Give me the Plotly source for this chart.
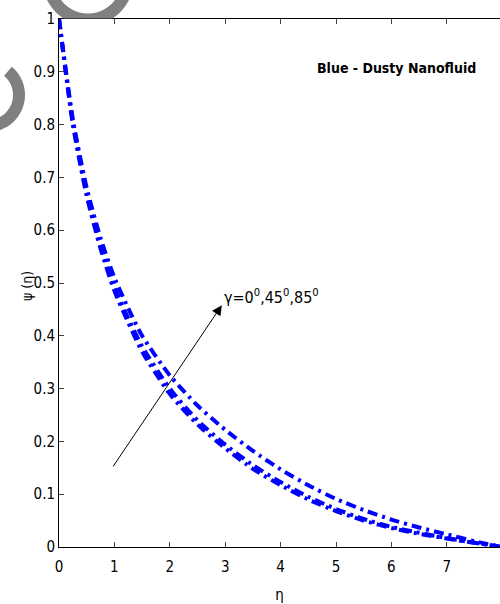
import numpy as np
import plotly.graph_objects as go

# ---- data ----
eta = [0, 0.25, 0.5, 0.75, 1, 1.25, 1.5, 2, 2.5, 3, 3.5, 4, 4.5, 5, 5.5, 6, 6.5, 7, 7.5, 8]
psi_g0 = [1, 0.80, 0.665, 0.565, 0.485, 0.425, 0.37, 0.29, 0.232, 0.187, 0.148, 0.117, 0.09, 0.068, 0.05, 0.036, 0.025, 0.016, 0.008, 0]
psi_g45 = [1, 0.805, 0.67, 0.572, 0.493, 0.433, 0.38, 0.30, 0.24, 0.194, 0.155, 0.123, 0.095, 0.072, 0.053, 0.038, 0.027, 0.017, 0.008, 0]
psi_g85 = [1, 0.81, 0.68, 0.585, 0.51, 0.452, 0.40, 0.325, 0.268, 0.222, 0.182, 0.147, 0.117, 0.091, 0.07, 0.052, 0.037, 0.024, 0.011, 0]
series_names = ["γ=0°", "γ=45°", "γ=85°"]
x_ticks = [0, 1, 2, 3, 4, 5, 6, 7]
y_ticks = [0, 0.1, 0.2, 0.3, 0.4, 0.5, 0.6, 0.7, 0.8, 0.9, 1]
y_tick_text = ["0", "0.1", "0.2", "0.3", "0.4", "0.5", "0.6", "0.7", "0.8", "0.9", "1"]

W, H = 500, 604
ML, MR, MT, MB = 59, 0, 19, 57
FONT = "Liberation Sans Narrow, DejaVu Sans Condensed, Liberation Sans, Arial, sans-serif"

fig = go.Figure()
for name, ys in zip(series_names, [psi_g0, psi_g45, psi_g85]):
    fig.add_trace(go.Scatter(
        x=eta, y=ys, mode="lines", name=name,
        line=dict(color="#0000FF", width=4, dash="10px,5px,3px,5px", shape="spline", smoothing=0.6),
        showlegend=False,
    ))

# ---- decorative grey watermark fragments (outside the axes) ----
pw = W - ML - MR
ph = H - MT - MB

def to_paper(px, py):
    return (px - ML) / pw, (H - MB - py) / ph

def ring_path(cx, cy, R, r, a0, a1, ymax=None, n=80):
    th = np.linspace(np.radians(a0), np.radians(a1), n)
    outer = [(cx + R * np.cos(t), cy + R * np.sin(t)) for t in th]
    inner = [(cx + r * np.cos(t), cy + r * np.sin(t)) for t in th[::-1]]
    pts = outer + inner
    if ymax is not None:
        pts = [(x, min(y, ymax)) for x, y in pts]
    p = [to_paper(x, y) for x, y in pts]
    return "M " + " L ".join(f"{a:.5f},{b:.5f}" for a, b in p) + " Z"

fig.add_shape(type="path", xref="paper", yref="paper",
              path=ring_path(88, -20, 45.5, 33.5, 0, 180, ymax=MT - 0.5),
              fillcolor="#808080", line=dict(width=0), layer="above")
fig.add_shape(type="path", xref="paper", yref="paper",
              path=ring_path(-12, 95, 37, 25, -50, 90),
              fillcolor="#808080", line=dict(width=0), layer="above")

# ---- annotations ----
fig.add_annotation(x=2.94, y=0.458, ax=0.96, ay=0.15, xref="x", yref="y", axref="x", ayref="y",
                   text="", showarrow=True, arrowhead=2, arrowsize=2, arrowwidth=1, arrowcolor="black")
fig.add_annotation(x=2.94, y=0.474, xref="x", yref="y", xanchor="left", yanchor="middle",
                   text="γ=0<sup>0</sup>,45<sup>0</sup>,85<sup>0</sup>", showarrow=False,
                   font=dict(family=FONT, size=16, color="black"))
fig.add_annotation(x=(478 - ML) / pw, y=(H - MB - 68) / ph, xref="paper", yref="paper",
                   xanchor="right", yanchor="middle",
                   text="<b>Blue - Dusty Nanofluid</b>", showarrow=False,
                   font=dict(family=FONT, size=14, color="black"))
# y-axis title
fig.add_annotation(x=(27 - ML) / pw, y=(H - MB - 286) / ph, xref="paper", yref="paper",
                   xanchor="center", yanchor="middle", textangle=-90,
                   text="ψ (η)", showarrow=False,
                   font=dict(family=FONT, size=14, color="black"))

fig.update_layout(
    width=W, height=H,
    margin=dict(l=ML, r=MR, t=MT, b=MB, pad=0),
    paper_bgcolor="white", plot_bgcolor="white",
    font=dict(family=FONT, size=15, color="black"),
    xaxis=dict(range=[0, (W - ML - MR) / 55.4], tickvals=x_ticks, ticks="inside", ticklen=5,
               showline=True, linecolor="black", linewidth=1, mirror="ticks", showgrid=False,
               zeroline=False, ticklabelstandoff=6,
               title=dict(text="η", standoff=16, font=dict(size=15)), tickfont=dict(size=15)),
    yaxis=dict(range=[0, 1], tickvals=y_ticks, ticktext=y_tick_text, ticks="inside", ticklen=5,
               showline=True, linecolor="black", linewidth=1, mirror=False, showgrid=False,
               zeroline=False, tickfont=dict(size=15)),
)

fig.write_html("out.html")
